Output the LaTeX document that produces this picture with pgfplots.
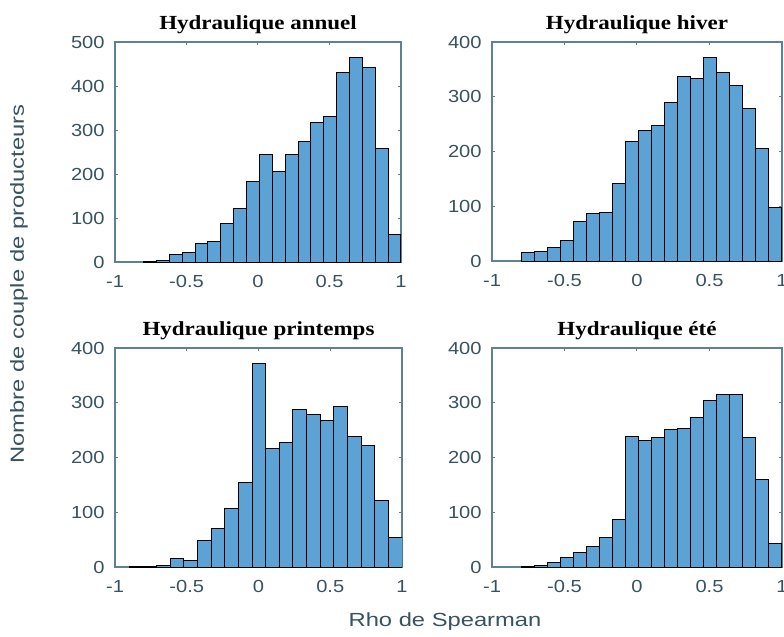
\documentclass[border=0pt]{standalone}
\usepackage{pgfplots}
\pgfplotsset{compat=1.18}
\usepackage{fontspec}
\setmainfont{Liberation Sans}
\newfontfamily\tickfont{Liberation Sans}[FakeStretch=1.15]
\newfontfamily\labelfont{Liberation Sans}[FakeStretch=1.25]
\newfontfamily\titlefont{Liberation Serif}[FakeStretch=1.15]
\definecolor{axiscol}{RGB}{95,130,145}
\definecolor{textcol}{RGB}{55,82,96}
\definecolor{barcol}{RGB}{92,162,212}
\pgfplotsset{
  every axis title shift=0pt,
  panel/.style={
    scale only axis, anchor=south west,
    xmin=-1, xmax=1, ymin=0, enlargelimits=false,
    xtick={-1,-0.5,0,0.5,1}, xticklabels={-1,-0.5,0,0.5,1},
    tick align=inside, major tick length=1.6pt,
    xtick pos=both, ytick pos=both,
    tick style={draw=axiscol, line width=0.5pt},
    axis line style={draw=axiscol, line width=0.6pt},
    xticklabel style={font=\tickfont\fontsize{8.75}{10}\selectfont, text=textcol, anchor=base, inner sep=0pt, yshift=-12.5pt},
    yticklabel style={font=\tickfont\fontsize{8.75}{10}\selectfont, text=textcol, anchor=east, inner sep=0pt, xshift=-5pt},
    title style={font=\titlefont\bfseries\fontsize{10}{12}\selectfont, at={(0.5,1)}, anchor=base, inner sep=0pt, yshift=6.5pt},
  },
  hist/.style={ybar interval, fill=barcol, draw=black, line width=0.5pt},
}
\begin{document}
\begin{tikzpicture}
\path[use as bounding box] (0,0) rectangle (392pt,-318.5pt);
% Panel 1
\begin{axis}[panel, at={(57.5pt,-131pt)}, width=143pt, height=110pt,
  ymax=500, ytick={0,100,200,300,400,500}, yticklabels={0,100,200,300,400,500},
  title={Hydraulique annuel}]
\addplot[hist] coordinates {(-0.80,2) (-0.71,3) (-0.62,17) (-0.53,21) (-0.44,41) (-0.35,47) (-0.26,87) (-0.17,121) (-0.08,184) (0.01,244) (0.10,205) (0.19,244) (0.28,275) (0.37,317) (0.46,331) (0.55,430) (0.64,464) (0.73,443) (0.82,258) (0.91,62) (1.00,62)};
\end{axis}
% Panel 2
\begin{axis}[panel, at={(246pt,-130.5pt)}, width=145pt, height=109.5pt,
  ymax=400, ytick={0,100,200,300,400}, yticklabels={0,100,200,300,400},
  title={Hydraulique hiver}]
\addplot[hist] coordinates {(-0.80,15) (-0.71,18) (-0.62,24) (-0.53,38) (-0.44,72) (-0.35,86) (-0.26,88) (-0.17,141) (-0.08,219) (0.01,239) (0.10,248) (0.19,290) (0.28,337) (0.37,334) (0.46,371) (0.55,345) (0.64,320) (0.73,278) (0.82,206) (0.91,97) (1.00,97)};
\end{axis}
% Panel 3
\begin{axis}[panel, at={(57.5pt,-283.5pt)}, width=143.5pt, height=109.5pt,
  ymax=400, ytick={0,100,200,300,400}, yticklabels={0,100,200,300,400},
  title={Hydraulique printemps}]
\addplot[hist] coordinates {(-0.9,1) (-0.805,1) (-0.71,3) (-0.615,15) (-0.52,12) (-0.425,49) (-0.33,70) (-0.235,107) (-0.14,155) (-0.045,371) (0.05,217) (0.145,228) (0.24,287) (0.335,278) (0.43,267) (0.525,293) (0.62,239) (0.715,222) (0.81,121) (0.905,54) (1.0,54)};
\end{axis}
% Panel 4
\begin{axis}[panel, at={(246pt,-283.5pt)}, width=145pt, height=109.5pt,
  ymax=400, ytick={0,100,200,300,400}, yticklabels={0,100,200,300,400},
  title={Hydraulique été}]
\addplot[hist] coordinates {(-0.80,1) (-0.71,3) (-0.62,9) (-0.53,17) (-0.44,26) (-0.35,37) (-0.26,54) (-0.17,87) (-0.08,239) (0.01,231) (0.10,236) (0.19,252) (0.28,253) (0.37,273) (0.46,304) (0.55,315) (0.64,315) (0.73,236) (0.82,160) (0.91,43) (1.00,43)};
\end{axis}
\node[rotate=90, text=textcol, font=\labelfont\fontsize{9.5}{11}\selectfont] at (9.5pt,-142pt) {Nombre de couple de producteurs};
\node[text=textcol, font=\labelfont\fontsize{9.5}{11}\selectfont] at (222.5pt,-311pt) {Rho de Spearman};
\end{tikzpicture}
\end{document}
